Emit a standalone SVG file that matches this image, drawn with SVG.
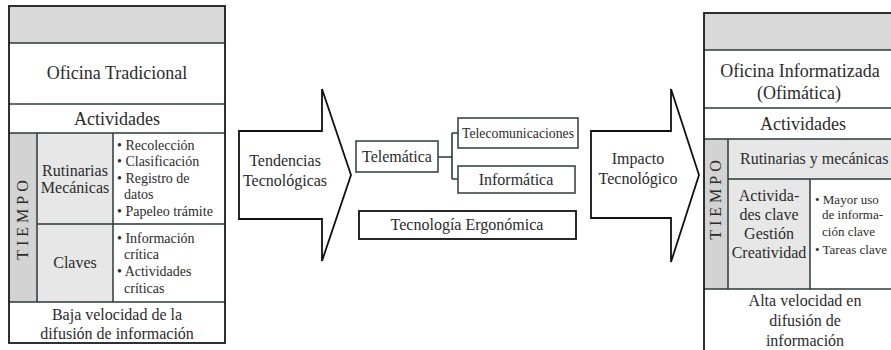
<svg xmlns="http://www.w3.org/2000/svg" width="891" height="350" viewBox="0 0 891 350">
<style>
text{font-family:"Liberation Serif","Times New Roman",serif;fill:#2b2b2b}
.t18{font-size:18px}
.t16{font-size:16px}
.t14{font-size:14px}
.t13{font-size:13px}
.c{text-anchor:middle}
.border{fill:none;stroke:#1a1a1a;stroke-width:1.8}
.ln{stroke:#2a3838;stroke-width:1.5;fill:none}
.hdr{fill:#d9d9d9}
.tiempo{fill:#d3d3d3}
.light{fill:#e7e7e7}
.arrow{fill:#fff;stroke:#111;stroke-width:1.8;stroke-linejoin:miter}
.box{fill:#fff;stroke:#3a4848;stroke-width:1.6}
.box2{fill:#fff;stroke:#111;stroke-width:1.8}
.conn{fill:none;stroke:#2a3838;stroke-width:1.6}
</style>

<g id="tabla-tradicional">
  <rect x="9" y="6" width="216" height="337" fill="#fff"/>
  <rect class="hdr" x="9" y="6" width="216" height="37"/>
  <rect class="tiempo" x="9" y="133" width="28" height="169"/>
  <rect class="light" x="37" y="133" width="76" height="169"/>
  <line class="ln" x1="9" y1="43" x2="225" y2="43"/>
  <line class="ln" x1="9" y1="104" x2="225" y2="104"/>
  <line class="ln" x1="9" y1="133" x2="225" y2="133"/>
  <line class="ln" x1="37" y1="133" x2="37" y2="302"/>
  <line class="ln" x1="113" y1="133" x2="113" y2="302"/>
  <line class="ln" x1="37" y1="224" x2="225" y2="224"/>
  <line class="ln" x1="9" y1="302" x2="225" y2="302"/>
  <rect class="border" x="9" y="6" width="216" height="337"/>
  <text class="t18 c" x="117" y="79">Oficina Tradicional</text>
  <text class="t18 c" x="117" y="125">Actividades</text>
  <text class="t16 c" letter-spacing="4" transform="translate(28,218) rotate(-90)">TIEMPO</text>
  <text class="t16 c" x="75" y="176">Rutinarias</text>
  <text class="t16 c" x="75" y="193">Mecánicas</text>
  <text class="t16 c" x="75" y="268">Claves</text>
  <text class="t14" x="117" y="150">• Recolección</text>
  <text class="t14" x="117" y="166">• Clasificación</text>
  <text class="t14" x="117" y="183">• Registro de</text>
  <text class="t14" x="124" y="199">datos</text>
  <text class="t14" x="117" y="216">• Papeleo trámite</text>
  <text class="t14" x="117" y="243">• Información</text>
  <text class="t14" x="124" y="259">crítica</text>
  <text class="t14" x="117" y="276">• Actividades</text>
  <text class="t14" x="124" y="293">críticas</text>
  <text class="t16 c" x="117" y="320">Baja velocidad de la</text>
  <text class="t16 c" x="117" y="339">difusión de información</text>
</g>

<g id="flecha-tendencias">
  <polygon class="arrow" points="239,131 322,131 322,89 351,175 322,261 322,219 239,219"/>
  <text class="t16 c" x="285" y="166">Tendencias</text>
  <text class="t16 c" x="285" y="186">Tecnológicas</text>
</g>

<g id="conectores">
  <path class="conn" d="M438,157 H452 M452,133 V179 M452,133 H458 M452,179 H458"/>
</g>

<g id="telematica">
  <rect class="box" x="356" y="141" width="82" height="31"/>
  <text class="t16 c" x="397" y="162">Telemática</text>
</g>

<g id="telecomunicaciones">
  <rect class="box" x="458" y="118" width="120" height="30"/>
  <text class="t14 c" x="518" y="138" textLength="112" lengthAdjust="spacingAndGlyphs">Telecomunicaciones</text>
</g>

<g id="informatica">
  <rect class="box" x="458" y="166" width="117" height="27"/>
  <text class="t16 c" x="516" y="185">Informática</text>
</g>

<g id="ergonomica">
  <rect class="box2" x="359" y="211" width="217" height="28"/>
  <text class="t16 c" x="467" y="230">Tecnología Ergonómica</text>
</g>

<g id="flecha-impacto">
  <polygon class="arrow" points="591,131 671,131 671,89 699,175 671,262 671,218 591,218"/>
  <text class="t16 c" x="638" y="164">Impacto</text>
  <text class="t16 c" x="638" y="184">Tecnológico</text>
</g>

<g id="tabla-informatizada">
  <rect x="704" y="13" width="192" height="345" fill="#fff"/>
  <rect class="hdr" x="704" y="13" width="192" height="37"/>
  <rect class="tiempo" x="704" y="139" width="24" height="150"/>
  <rect class="light" x="728" y="139" width="168" height="40"/>
  <rect class="light" x="728" y="179" width="82" height="110"/>
  <line class="ln" x1="704" y1="50" x2="896" y2="50"/>
  <line class="ln" x1="704" y1="108" x2="896" y2="108"/>
  <line class="ln" x1="704" y1="139" x2="896" y2="139"/>
  <line class="ln" x1="728" y1="139" x2="728" y2="289"/>
  <line class="ln" x1="728" y1="179" x2="896" y2="179"/>
  <line class="ln" x1="810" y1="179" x2="810" y2="289"/>
  <line class="ln" x1="704" y1="289" x2="896" y2="289"/>
  <rect class="border" x="704" y="13" width="192" height="345"/>
  <text class="t18 c" x="800" y="77">Oficina Informatizada</text>
  <text class="t18 c" x="799" y="99">(Ofimática)</text>
  <text class="t18 c" x="803" y="130">Actividades</text>
  <text class="t16 c" letter-spacing="4" transform="translate(721,198) rotate(-90)">TIEMPO</text>
  <text class="t16" x="740" y="164">Rutinarias y mecánicas</text>
  <text class="t16 c" x="769" y="201">Activida-</text>
  <text class="t16 c" x="769" y="220">des clave</text>
  <text class="t16 c" x="769" y="239">Gestión</text>
  <text class="t16 c" x="769" y="258">Creatividad</text>
  <text class="t13" x="815" y="204">• Mayor uso</text>
  <text class="t13" x="822" y="219">de informa-</text>
  <text class="t13" x="822" y="236">ción clave</text>
  <text class="t13" x="815" y="254">• Tareas clave</text>
  <text class="t16 c" x="805" y="306">Alta velocidad en</text>
  <text class="t16 c" x="805" y="326">difusión de</text>
  <text class="t16 c" x="805" y="346">información</text>
</g>
</svg>
